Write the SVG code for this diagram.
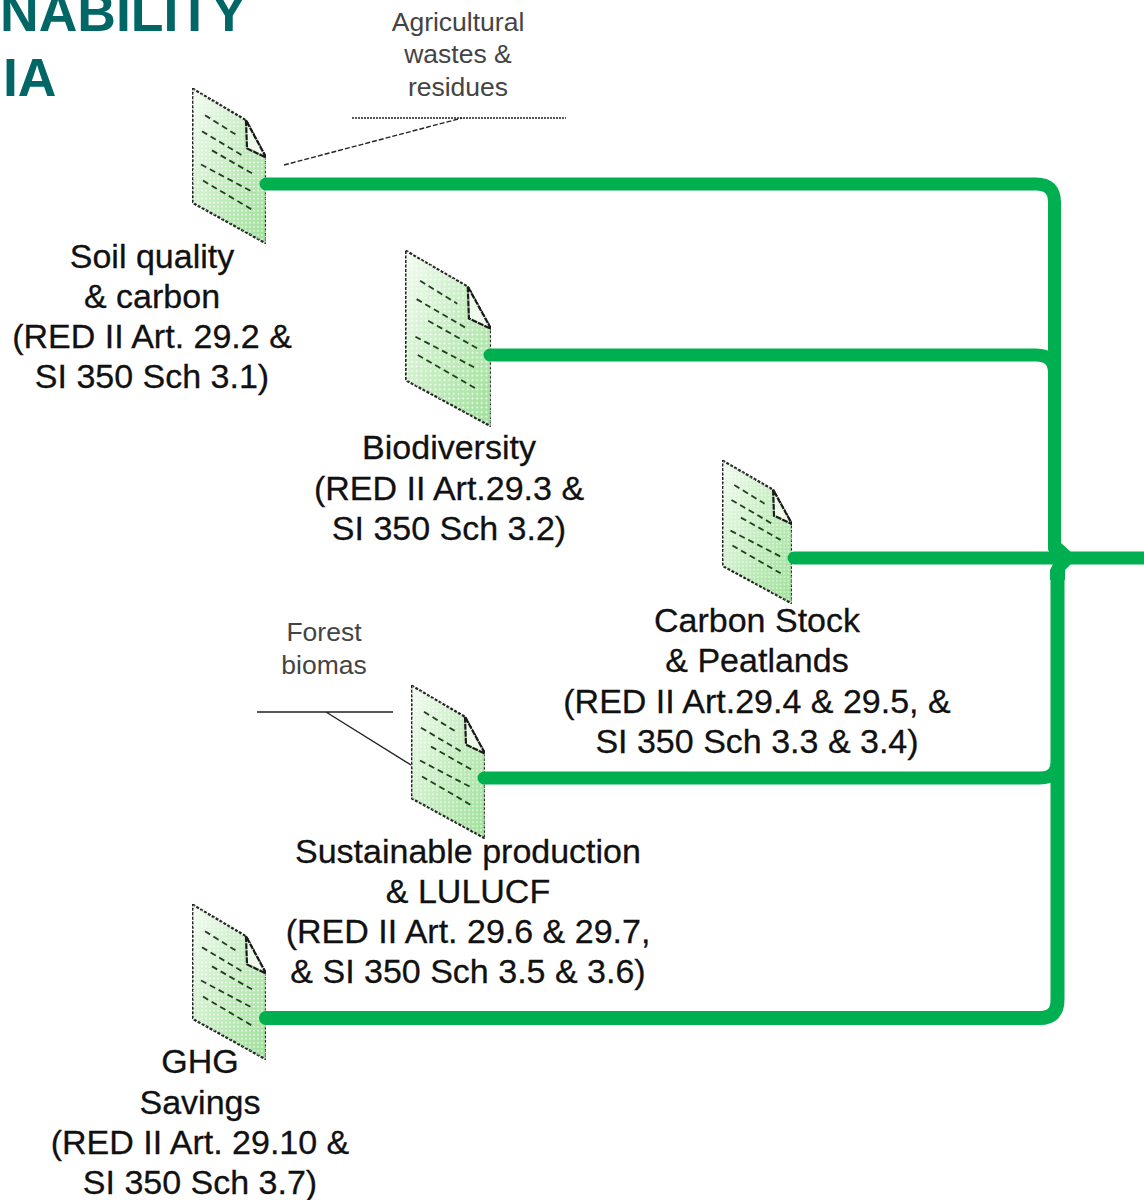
<svg xmlns="http://www.w3.org/2000/svg" width="1144" height="1200" viewBox="0 0 1144 1200">
<style>
text{font-family:"Liberation Sans",Arial,sans-serif;text-anchor:middle;fill:#111}
.l{font-size:34px;stroke:#111;stroke-width:.3}
.s{font-size:26.5px;fill:#444}
.t{font-size:53.5px;font-weight:bold;fill:#006666;text-anchor:start}
.c{fill:none;stroke:#00b050;stroke-width:13;stroke-linecap:round;stroke-linejoin:round}
.b{fill:url(#g);stroke:#222;stroke-width:2.2;stroke-dasharray:3 1.5}
.d{fill:url(#dots);stroke:none}
.f{fill:#eefaea;stroke:#1a1a1a;stroke-width:2.2;stroke-dasharray:6 1}
.r{fill:none;stroke:#1f3f1f;stroke-width:1.8;stroke-dasharray:6 4}
.k{fill:none;stroke:#222;stroke-width:1.4}
</style>
<defs>
<linearGradient id="g" x1="0" y1="0" x2="1" y2="1"><stop offset="0" stop-color="#f4fcf2"/><stop offset=".6" stop-color="#bdeab8"/><stop offset="1" stop-color="#9fe09a"/></linearGradient>
<pattern id="dots" width="4" height="4" patternUnits="userSpaceOnUse"><circle cx="2" cy="2" r=".8" fill="#fff"/></pattern>
<symbol id="doc" viewBox="0 0 74 155" preserveAspectRatio="none">
<path class="b" d="M0.5 0.5L54 32L74 69V154.500L0.5 114Z" vector-effect="non-scaling-stroke"/>
<path class="d" d="M0.5 0.5L54 32L74 69V154.500L0.5 114Z"/>
<path class="f" d="M54 32L55 60L74 69Z" vector-effect="non-scaling-stroke"/>
<path class="r" vector-effect="non-scaling-stroke" d="M13 27L45 47M10 43L52 68M20 62L62 86M9 76L62 104M11 92L62 122"/>
</symbol>
</defs>
<text class="t" x="0" y="31">NABILITY</text>
<text class="t" x="3" y="96">IA</text>
<g id="soil"><use href="#doc" x="192" y="88" width="74" height="156"/>
<text class="l" x="152" y="268">Soil quality</text><text class="l" x="152" y="308">&amp; carbon</text><text class="l" x="152" y="348">(RED II Art. 29.2 &amp;</text><text class="l" x="152" y="388">SI 350 Sch 3.1)</text></g>
<g id="biodiversity"><use href="#doc" x="405" y="250" width="86" height="177"/>
<text class="l" x="449" y="459">Biodiversity</text><text class="l" x="449" y="500">(RED II Art.29.3 &amp;</text><text class="l" x="449" y="540">SI 350 Sch 3.2)</text></g>
<g id="carbon"><use href="#doc" x="722" y="460" width="70" height="144"/>
<text class="l" x="757" y="632">Carbon Stock</text><text class="l" x="757" y="672">&amp; Peatlands</text><text class="l" x="757" y="713">(RED II Art.29.4 &amp; 29.5, &amp;</text><text class="l" x="757" y="753">SI 350 Sch 3.3 &amp; 3.4)</text></g>
<g id="sustainable"><use href="#doc" x="411" y="685" width="74" height="154"/>
<text class="l" x="468" y="863">Sustainable production</text><text class="l" x="468" y="903">&amp; LULUCF</text><text class="l" x="468" y="943">(RED II Art. 29.6 &amp; 29.7,</text><text class="l" x="468" y="983">&amp; SI 350 Sch 3.5 &amp; 3.6)</text></g>
<g id="ghg"><use href="#doc" x="192" y="904" width="74" height="156"/>
<text class="l" x="200" y="1073">GHG</text><text class="l" x="200" y="1114">Savings</text><text class="l" x="200" y="1154">(RED II Art. 29.10 &amp;</text><text class="l" x="200" y="1194">SI 350 Sch 3.7)</text></g>
<g id="agri"><text class="s" x="458" y="31">Agricultural</text><text class="s" x="458" y="63">wastes &amp;</text><text class="s" x="458" y="96">residues</text></g>
<g id="forest"><text class="s" x="324" y="641">Forest</text><text class="s" x="324" y="674">biomas</text></g>
<g id="connectors">
<path class="c" d="M266 184H1036Q1054.500 184 1054.500 202V548"/>
<path class="c" d="M490 355H1036Q1054.500 355 1054.500 373V548"/>
<path class="c" d="M794 558H1144"/>
<path class="c" d="M484 778H1040Q1057.500 778 1057.500 760"/>
<path class="c" d="M266 1018H1040Q1057.500 1018 1057.500 1000V578" style="stroke-width:14"/>
<path fill="#00b050" d="M1048 543H1061L1071 552V564L1065 570V580H1050V570L1053 564V552L1048 546Z"/>
<path class="k" d="M352 118H566" stroke-dasharray="2 1"/>
<path class="k" d="M284 165L462 118" stroke-dasharray="5 2"/>
<path class="k" d="M257 712H393M326 712L411 765"/>
</g>
</svg>
